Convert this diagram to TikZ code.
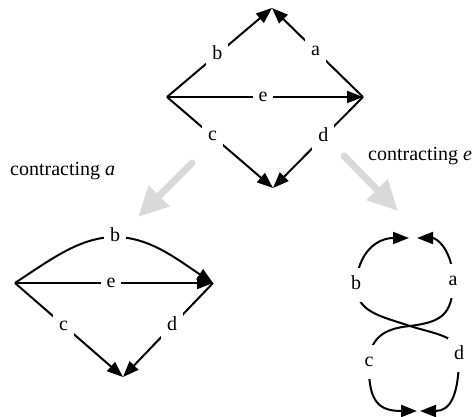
\documentclass[tikz,border=0pt]{standalone}
\usepackage{fontspec}
\setmainfont{Liberation Serif}
\usetikzlibrary{arrows.meta}
\begin{document}
\begin{tikzpicture}[x=1pt,y=1pt,
  edge/.style={line width=2pt, -{Triangle[length=16pt,width=12pt]}},
  lbl/.style={fill=white, inner xsep=6pt, inner ysep=8pt,
    text height=14pt, text depth=4.4pt, font=\fontsize{20}{24}\selectfont},
  shiftarrow/.style={line width=7pt, draw=gray!30, line cap=round,
    -{Triangle[length=30pt,width=28pt]}},
  caption/.style={anchor=base west, inner sep=0pt, font=\fontsize{20}{24}\selectfont}]
\useasboundingbox (0,0) rectangle (474,416);

% original graph
\coordinate (T) at (272,408);
\coordinate (L) at (167,319);
\coordinate (R) at (363,319);
\coordinate (B) at (273,228);
\draw[edge] (L) -- node[lbl,pos=0.48]{b} (T);
\draw[edge] (R) -- node[lbl,pos=0.52]{a} (T);
\draw[edge] (L) -- node[lbl,pos=0.49]{e} (R);
\draw[edge] (L) -- node[lbl,pos=0.43]{c} (B);
\draw[edge] (R) -- node[lbl,pos=0.44]{d} (B);

% contraction arrows and captions
\coordinate (gAs) at (192,253);
\coordinate (gAe) at (138,199);
\coordinate (gEs) at (344,260);
\coordinate (gEe) at (398,205);
\draw[shiftarrow] (gAs) -- (gAe);
\draw[shiftarrow] (gEs) -- (gEe);
\node[caption] (capA) at (10,241) {contracting \textit{a}};
\node[caption] (capE) at (368,256) {contracting \textit{e}};

% graph after contracting a
\coordinate (aL) at (15,133);
\coordinate (aR) at (213,133);
\coordinate (aB) at (123,39);
\draw[edge] (aL) .. controls (50,156) and (80,179) .. (115,179) node[lbl]{b}
  .. controls (150,179) and (178,156) .. (aR);
\draw[edge] (aL) -- node[lbl,pos=0.485]{e} (aR);
\draw[edge] (aL) -- node[lbl,pos=0.45]{c} (aB);
\draw[edge] (aR) -- node[lbl,pos=0.455]{d} (aB);

% graph after contracting e
\coordinate (eX) at (410,90);
\coordinate (eTb) at (409,178);
\coordinate (eTa) at (417,178);
\coordinate (eBc) at (417,5);
\coordinate (eBd) at (420,5);
\draw[edge] (eX) .. controls (380,100) and (356,104) .. (356,131) node[lbl]{b}
  .. controls (358,165) and (378,178) .. (eTb);
\draw[edge] (eX) .. controls (440,94) and (453,100) .. (453,135) node[lbl]{a}
  .. controls (453,165) and (437,178) .. (eTa);
\draw[edge] (eX) .. controls (390,88) and (370,82) .. (369,54) node[lbl]{c}
  .. controls (368,15) and (378,5) .. (eBc);
\draw[edge] (eX) .. controls (435,82) and (459,80) .. (459,61) node[lbl]{d}
  .. controls (459,20) and (450,5) .. (eBd);
\end{tikzpicture}
\end{document}
